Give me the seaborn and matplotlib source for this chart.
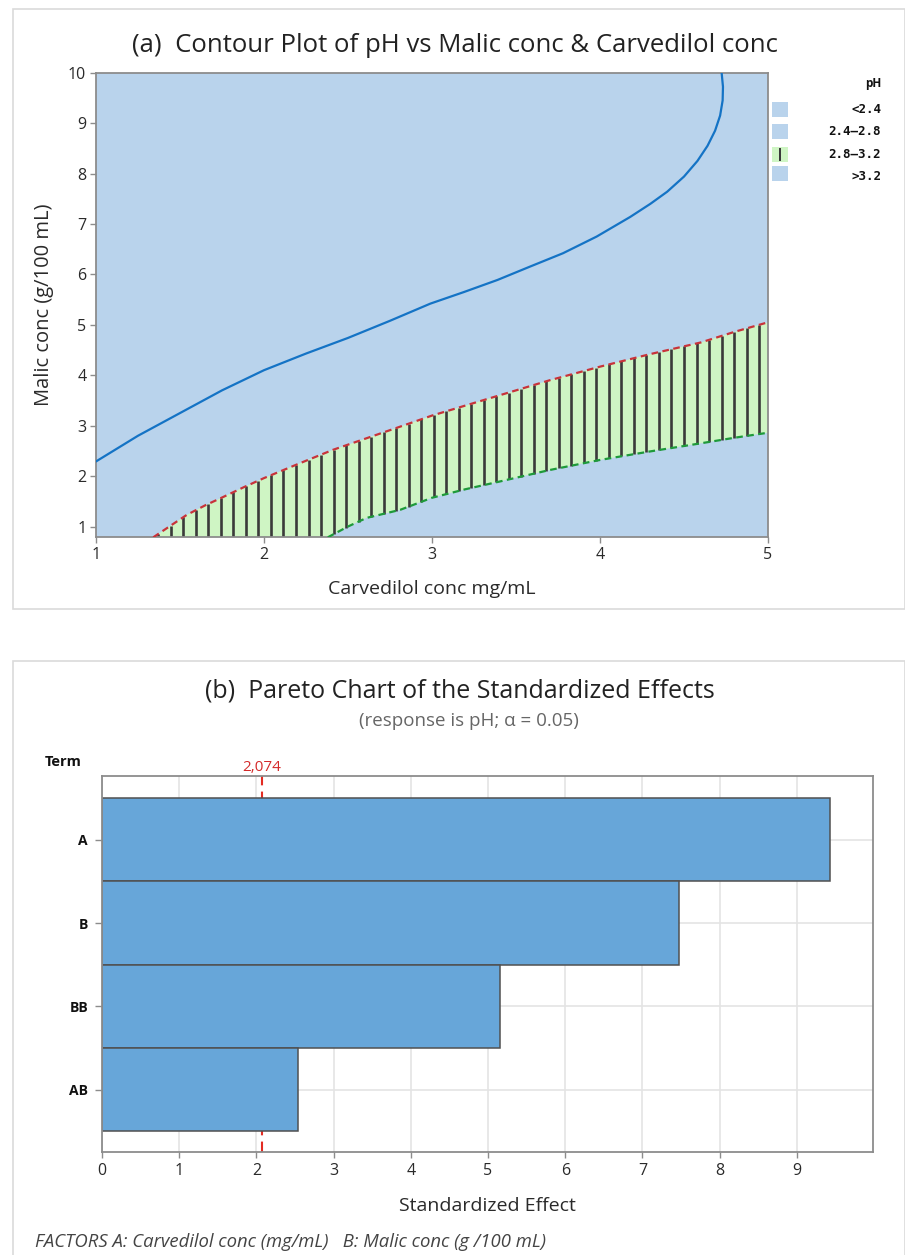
import numpy as np
import pandas as pd
import matplotlib
matplotlib.use("Agg")
import matplotlib.pyplot as plt
from matplotlib.patches import Rectangle
import seaborn as sns

# ---- contour panel: boundaries of the fitted pH surface ----
# pH = 2.4 contour (blue line), read as (carvedilol, malic) pairs
c24_carv = [1.00, 1.25, 1.50, 1.75, 2.00, 2.25, 2.50, 2.75, 2.99, 3.19, 3.39,
            3.58, 3.78, 3.98, 4.18, 4.30, 4.40, 4.50, 4.58, 4.64, 4.685, 4.715, 4.730, 4.732, 4.724]
c24_malic = [2.29, 2.80, 3.25, 3.70, 4.10, 4.43, 4.74, 5.08, 5.42, 5.65, 5.89,
             6.15, 6.42, 6.75, 7.14, 7.40, 7.64, 7.94, 8.25, 8.55, 8.85, 9.15, 9.45, 9.72, 10.0]

# pH = 2.8 contour (upper edge of the 2.8-3.2 band)
c28_carv = [1.341, 1.45, 1.54, 1.65, 1.76, 1.88, 2.00, 2.21, 2.41, 2.61, 2.81,
            3.00, 3.20, 3.40, 3.70, 4.00, 4.30, 4.60, 4.80, 5.00]
c28_malic = [0.786, 1.03, 1.23, 1.42, 1.59, 1.78, 1.96, 2.25, 2.52, 2.75, 2.98,
             3.20, 3.40, 3.60, 3.90, 4.17, 4.42, 4.65, 4.86, 5.05]

# pH = 3.2 contour (lower edge of the band)
c32_carv = [2.38, 2.50, 2.61, 2.81, 3.00, 3.20, 3.40, 3.70, 4.00, 4.30, 4.60, 4.80, 5.00]
c32_malic = [0.786, 1.00, 1.17, 1.33, 1.57, 1.74, 1.89, 2.12, 2.32, 2.49, 2.65, 2.76, 2.86]

x_ticks_a = [1, 2, 3, 4, 5]
y_ticks_a = [1, 2, 3, 4, 5, 6, 7, 8, 9, 10]
legend_labels = ["<2.4", "2.4\u20132.8", "2.8\u20133.2", ">3.2"]

# ---- pareto panel ----
terms = ["A", "B", "BB", "AB"]
effects = [9.43, 7.47, 5.16, 2.54]
critical_value = 2.074
x_ticks_b = [0, 1, 2, 3, 4, 5, 6, 7, 8, 9]

W, H = 905, 1255
sns.set_theme(style="white")
plt.rcParams["font.family"] = ["Open Sans", "DejaVu Sans"]

fig = plt.figure(figsize=(W / 100, H / 100), dpi=100)
fig.patch.set_facecolor("white")


def fx(px):
    return px / W


def fy(py):
    return 1 - py / H


# panel frames
for (x0, y0, x1, y1) in [(12.7, 9.3, 904.5, 609), (12.7, 660.7, 904.5, 1262)]:
    fig.add_artist(Rectangle((fx(x0), fy(y1)), fx(x1 - x0), (y1 - y0) / H,
                             transform=fig.transFigure, facecolor="none",
                             edgecolor="#DADADA", lw=1.2, clip_on=False))

text_dark = "#2A2A2A"
spine_col = "#8C8C8C"

# ================= (a) contour plot =================
ymin_a = 0.786
ax1 = fig.add_axes([fx(96), fy(537.3), fx(768 - 96), (537.3 - 72.7) / H])
ax1.set_facecolor("#B9D3EC")
ax1.set_xlim(1, 5)
ax1.set_ylim(ymin_a, 10)

# band 2.8-3.2 polygon
poly_x = c28_carv + [5.0] + c32_carv[::-1]
poly_y = c28_malic + [c32_malic[-1]] + c32_malic[::-1]
ax1.fill(poly_x, poly_y, color="#CFF5C4", lw=0, zorder=1)

# vertical hatch lines inside the band
hx = np.arange(c28_carv[0] + 0.03, 5.0, 0.0745)
h_top = np.interp(hx, c28_carv, c28_malic)
h_bot = np.where(hx < c32_carv[0], ymin_a, np.interp(hx, c32_carv, c32_malic))
ax1.vlines(hx, h_bot, h_top, colors="#3A3A3A", lw=1.9, zorder=2)

ax1.plot(c28_carv, c28_malic, color="#C8333A", lw=1.6, ls=(0, (3, 2)), zorder=3)
ax1.plot(c32_carv, c32_malic, color="#1E9A3A", lw=1.6, ls=(0, (3, 2)), zorder=3)
sns.lineplot(x=c24_carv, y=c24_malic, sort=False, color="#1473C5", lw=1.6,
             ax=ax1, zorder=4)

ax1.set_xticks(x_ticks_a)
ax1.set_yticks(y_ticks_a)
ax1.tick_params(axis="both", length=4, width=1, color=spine_col, labelsize=11.5,
                labelcolor=text_dark, direction="out", bottom=True, left=True, pad=3)
for s in ax1.spines.values():
    s.set_color(spine_col)
    s.set_linewidth(1.3)
ax1.set_xlabel("Carvedilol conc mg/mL", fontsize=14, color=text_dark, labelpad=12)
ax1.set_ylabel("Malic conc (g/100 mL)", fontsize=14.5, color=text_dark, labelpad=10)

fig.text(0.503, fy(45), "(a)  Contour Plot of pH vs Malic conc & Carvedilol conc",
         ha="center", va="center", fontsize=18.5, color="#222222")

# legend for the pH bands
fig.text(fx(881), fy(84), "pH", ha="right", va="center", fontsize=8.5,
         fontweight="bold", color="#111111")
patch_y = [101.7, 124.0, 146.7, 166.0]
label_y = [109.3, 131.7, 154.0, 176.7]
patch_col = ["#B9D3EC", "#B9D3EC", "#CFF5C4", "#B9D3EC"]
for lab, py, ly, pc in zip(legend_labels, patch_y, label_y, patch_col):
    fig.add_artist(Rectangle((fx(771.7), fy(py + 15)), fx(16), 15 / H,
                             transform=fig.transFigure, facecolor=pc,
                             edgecolor="none"))
    if pc == "#CFF5C4":
        fig.add_artist(Rectangle((fx(778.5), fy(py + 14)), fx(2.2), 13 / H,
                                 transform=fig.transFigure, facecolor="#3A3A3A",
                                 edgecolor="none"))
    fig.text(fx(881), fy(ly), lab, ha="right", va="center", fontsize=9,
             fontweight="bold", family="DejaVu Sans Mono", color="#111111")

# ================= (b) pareto chart =================
ax2 = fig.add_axes([fx(102), fy(1152.3), fx(873.3 - 102), (1152.3 - 776) / H])
df = pd.DataFrame({"Term": terms, "Effect": effects})
ax2.axvline(critical_value, color="#E32B22", lw=1.5, ls=(0, (5, 3)), zorder=1)
sns.barplot(data=df, x="Effect", y="Term", orient="h", color="#67A6D9",
            saturation=1, width=1.0, edgecolor="#505050", linewidth=1.1,
            ax=ax2, zorder=2)
ax2.set_xlim(0, 9.99)
ax2.set_ylim(3.75, -0.765)
ax2.set_xticks(x_ticks_b)
ax2.grid(True, color="#E4E4E4", lw=1.2, zorder=0)
ax2.set_axisbelow(True)
for s in ax2.spines.values():
    s.set_color(spine_col)
    s.set_linewidth(1.3)
ax2.tick_params(axis="x", length=4, width=1, color=spine_col, labelsize=11.5,
                labelcolor=text_dark, bottom=True, pad=4)
ax2.tick_params(axis="y", length=5, width=1, color=spine_col, labelsize=10,
                labelcolor="#111111", left=True, pad=5)
for t in ax2.get_yticklabels():
    t.set_fontweight("bold")
ax2.set_ylabel("")
ax2.set_xlabel("Standardized Effect", fontsize=14, color=text_dark, labelpad=13)

ax2.text(critical_value, 1.002, "2,074", transform=ax2.get_xaxis_transform(),
         ha="center", va="bottom", fontsize=11, color="#D42A2A")
fig.text(fx(45), fy(762), "Term", ha="left", va="center", fontsize=10.5,
         fontweight="bold", color="#111111")

fig.text(0.508, fy(691), "(b)  Pareto Chart of the Standardized Effects",
         ha="center", va="center", fontsize=18, color="#222222")
fig.text(0.518, fy(721), "(response is pH; \u03b1 = 0.05)",
         ha="center", va="center", fontsize=13.5, color="#666666")
fig.text(fx(35), fy(1242),
         "FACTORS A: Carvedilol conc (mg/mL)   B: Malic conc (g /100 mL)",
         ha="left", va="center", fontsize=13.3, style="italic", color="#444444")

fig.savefig("out.png", dpi=100, facecolor="white")
